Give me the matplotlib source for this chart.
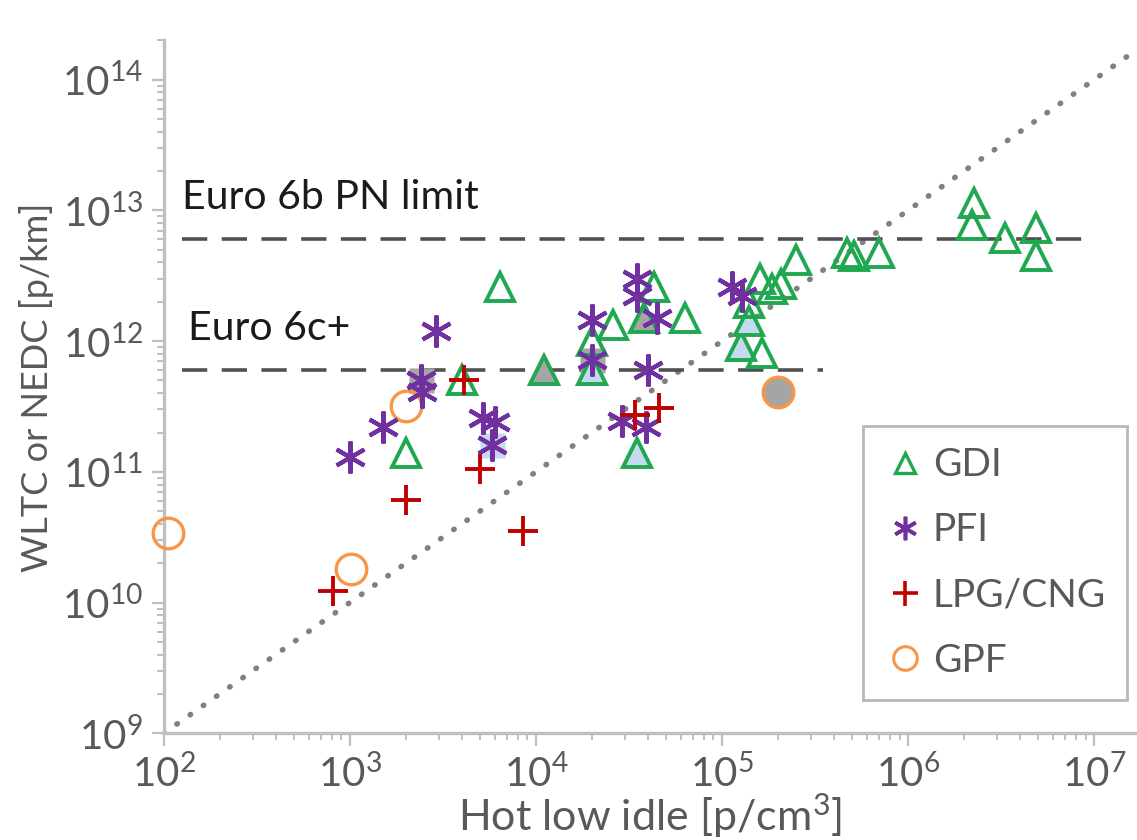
import matplotlib as mpl
import matplotlib.pyplot as plt
import numpy as np

# ---- data ----
# fill flag: 0 = open marker, 1 = grey filled, 2 = light blue filled
gdi_x = [2.0e3, 4.0e3, 6.4e3, 1.1e4, 2.0e4, 2.0e4, 2.6e4, 4.3e4, 3.8e4, 6.3e4,
         3.5e4, 1.26e5, 1.4e5, 1.64e5, 1.6e5, 1.86e5, 2.07e5, 2.5e5, 1.4e5,
         4.7e5, 5.1e5, 7.0e5, 2.25e6, 2.2e6, 3.3e6, 4.9e6, 4.9e6]
gdi_y = [1.4e11, 5.0e11, 2.6e12, 6.0e11, 1.0e12, 6.0e11, 1.32e12, 2.6e12, 1.5e12, 1.5e12,
         1.4e11, 9.2e11, 1.42e12, 8.1e11, 3.0e12, 2.5e12, 2.75e12, 4.2e12, 1.95e12,
         4.7e12, 4.5e12, 4.7e12, 1.13e13, 7.7e12, 6.1e12, 7.3e12, 4.5e12]
gdi_fill = [0, 0, 0, 1, 0, 2, 0, 0, 1, 0,
            2, 2, 2, 0, 0, 0, 0, 0, 0,
            0, 0, 0, 0, 0, 0, 0, 0]

pfi_x = [1.0e3, 1.5e3, 2.9e3, 2.4e3, 2.45e3, 5.2e3, 6.0e3, 5.8e3, 2.0e4, 2.0e4,
         3.5e4, 3.5e4, 4.5e4, 4.0e4, 2.9e4, 3.9e4, 1.13e5, 1.28e5]
pfi_y = [1.3e11, 2.2e11, 1.2e12, 5.0e11, 4.1e11, 2.6e11, 2.4e11, 1.6e11, 1.45e12, 7.2e11,
         3.0e12, 2.2e12, 1.5e12, 6.0e11, 2.45e11, 2.2e11, 2.6e12, 2.2e12]
pfi_fill = [0, 0, 0, 1, 0, 0, 0, 2, 0, 1,
            0, 0, 0, 0, 0, 0, 0, 0]

lpg_x = [8.1e2, 2.0e3, 4.1e3, 5.0e3, 8.5e3, 3.4e4, 4.6e4]
lpg_y = [1.23e10, 6.1e10, 5.0e11, 1.05e11, 3.5e10, 2.7e11, 3.1e11]

gpf_x = [1.05e2, 1.02e3, 2.0e3, 2.0e5]
gpf_y = [3.4e10, 1.8e10, 3.2e11, 4.1e11]
gpf_fill = [0, 0, 0, 1]

limit_labels = ["Euro 6b PN limit", "Euro 6c+"]
limit_values = [6e12, 6e11]
limit_xmin = [1.26e2, 1.26e2]
limit_xmax = [9.3e6, 3.5e5]

ref_x = [1e2, 1.7e7]   # 1:1 line, WLTC = 1e7 * idle
ref_factor = 1e7

# ---- style ----
plt.rcParams['font.family'] = ['Lato', 'DejaVu Sans']
plt.rcParams['mathtext.fontset'] = 'custom'
plt.rcParams['mathtext.rm'] = 'Lato'
plt.rcParams['mathtext.it'] = 'Lato:italic'

green = '#1fa84f'
purple = '#7030a0'
red = '#c00000'
orange = '#f79646'
fills = {0: 'white', 1: '#a5a5a5', 2: '#c5d9f1'}
axcol = '#bfbfbf'
txtcol = '#595959'

fig = plt.figure(figsize=(11.37, 8.4), dpi=100)
ax = fig.add_axes([0.144, 0.127, 0.856, 0.825])
ax.set_xscale('log')
ax.set_yscale('log')
ax.set_xlim(1e2, 1.7e7)
ax.set_ylim(1e9, 2e14)

# reference lines
rx = np.array(ref_x)
ax.plot(rx, rx * ref_factor, linestyle=(0, (0.1, 2.8)), color='#808080',
        lw=4, dash_capstyle='round', zorder=1)
for v, a, b in zip(limit_values, limit_xmin, limit_xmax):
    ax.plot([a, b], [v, v], linestyle=(0, (7, 4)), color='#505050', lw=2.6, zorder=1)
ax.text(1.26e2, 9.0e12, limit_labels[0], fontsize=29.5, color='#1a1a1a', va='bottom')
ax.text(1.35e2, 9.0e11, limit_labels[1], fontsize=29.5, color='#1a1a1a', va='bottom')

# filled backgrounds for starred points
for x, y, f in zip(pfi_x, pfi_y, pfi_fill):
    if f:
        ax.plot(x, y, 's', ms=18, color=fills[f], mec='none', zorder=2)

for x, y, f in zip(gdi_x, gdi_y, gdi_fill):
    ax.plot(x, y, '^', ms=20, mfc=fills[f] if f else 'none', mec=green, mew=2.8, zorder=3)
for x, y, f in zip(gpf_x, gpf_y, gpf_fill):
    ax.plot(x, y, 'o', ms=22, mfc=fills[f] if f else 'none', mec=orange, mew=2.4,
            zorder=3, clip_on=False)
ax.plot(pfi_x, pfi_y, ls='none', marker=(6, 2, 0), ms=23, mec=purple, mew=3.0, zorder=4)
ax.plot(lpg_x, lpg_y, ls='none', marker='+', ms=22, mec=red, mew=2.8, zorder=4)

# legend proxies
h = [mpl.lines.Line2D([], [], ls='none', marker='^', ms=15, mfc='none', mec=green, mew=2.4),
     mpl.lines.Line2D([], [], ls='none', marker=(6, 2, 0), ms=17, mec=purple, mew=2.6),
     mpl.lines.Line2D([], [], ls='none', marker='+', ms=18, mec=red, mew=2.6),
     mpl.lines.Line2D([], [], ls='none', marker='o', ms=17, mfc='none', mec=orange, mew=2.2)]
leg = ax.legend(h, ['GDI', 'PFI', 'LPG/CNG', 'GPF'], loc='lower right',
                bbox_to_anchor=(0.99, 0.048), fontsize=28, frameon=True, fancybox=False,
                handlelength=1.1, handletextpad=0.15, labelspacing=0.75,
                borderpad=0.55, borderaxespad=0)
for t in leg.get_texts():
    t.set_color(txtcol)
leg.get_frame().set_edgecolor('#a6a6a6')
leg.get_frame().set_linewidth(2)
leg.set_zorder(5)

# axes look
for s in ['top', 'right']:
    ax.spines[s].set_visible(False)
for s in ['left', 'bottom']:
    ax.spines[s].set_color(axcol)
    ax.spines[s].set_linewidth(2.4)
ax.xaxis.set_major_locator(mpl.ticker.LogLocator(base=10, numticks=12))
ax.yaxis.set_major_locator(mpl.ticker.LogLocator(base=10, numticks=12))
ax.tick_params(which='major', length=9, width=1.6, color=axcol, labelsize=29,
               labelcolor=txtcol, pad=6)
ax.tick_params(which='minor', length=5, width=1.4, color=axcol)

ax.set_xlabel(r'Hot low idle [p/cm$^{3}$]', fontsize=31, color=txtcol, labelpad=-2)
ax.set_ylabel('WLTC or NEDC [p/km]', fontsize=26, color=txtcol, labelpad=6)

fig.savefig('out.png', dpi=100)
